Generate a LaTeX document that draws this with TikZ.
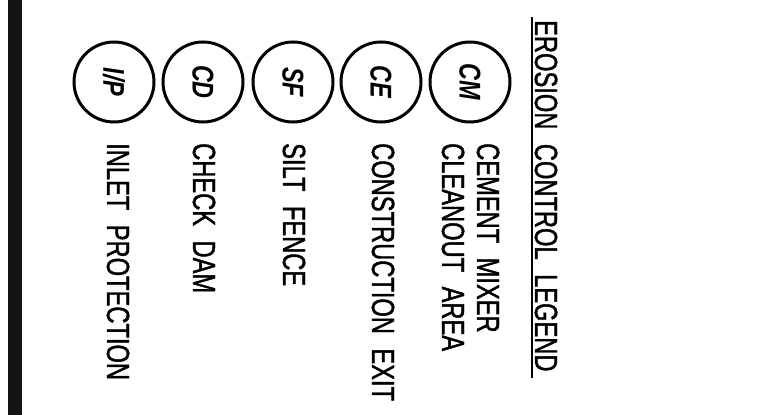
\documentclass[tikz,border=0pt]{standalone}
\usepackage{fontspec}
\newfontfamily\cadfont[FakeStretch=0.74,FakeBold=1.3,WordSpace=2.2]{Liberation Sans}
\newfontfamily\cadtag[FakeStretch=0.78]{Liberation Sans Bold Italic}
\begin{document}
\begin{tikzpicture}[x=1pt,y=-1pt,
  legendtext/.style={rotate=-90,anchor=base west,inner sep=0pt,
    font=\cadfont\fontsize{32}{36}\selectfont},
  tagring/.style={circle,draw,line width=3pt,minimum size=80pt,inner sep=0pt},
  tagtext/.style={rotate=-90,inner sep=0pt,
    font=\cadtag\fontsize{30}{34}\selectfont}]
\useasboundingbox (0,0) rectangle (761,415);
% sheet border strip
\fill[black!92] (8,0) rectangle (22,415);

% title
\node[legendtext] (title) at (535,20) {EROSION CONTROL LEGEND};
\draw[line width=2pt] (532,17) coordinate (ulA) -- (532,378) coordinate (ulB);

% symbol rings
\foreach \nm/\cx/\tg in {ip/114/{I/P}, cd/203/CD, sf/293/SF, ce/381/CE, cm/470/CM}{
  \node[tagring] (\nm) at (\cx,82) {};
  \node[tagtext] (\nm t) at (\nm.center) {\tg};
}

% descriptions
\node[legendtext] (cm1) at (477,143) {CEMENT MIXER};
\node[legendtext] (cm2) at (442,143) {CLEANOUT AREA};
\node[legendtext] (ce1) at (372,143) {CONSTRUCTION EXIT};
\node[legendtext] (sf1) at (283,143) {SILT FENCE};
\node[legendtext] (cd1) at (193,143) {CHECK DAM};
\node[legendtext] (ip1) at (107,143) {INLET PROTECTION};
\end{tikzpicture}
\end{document}
